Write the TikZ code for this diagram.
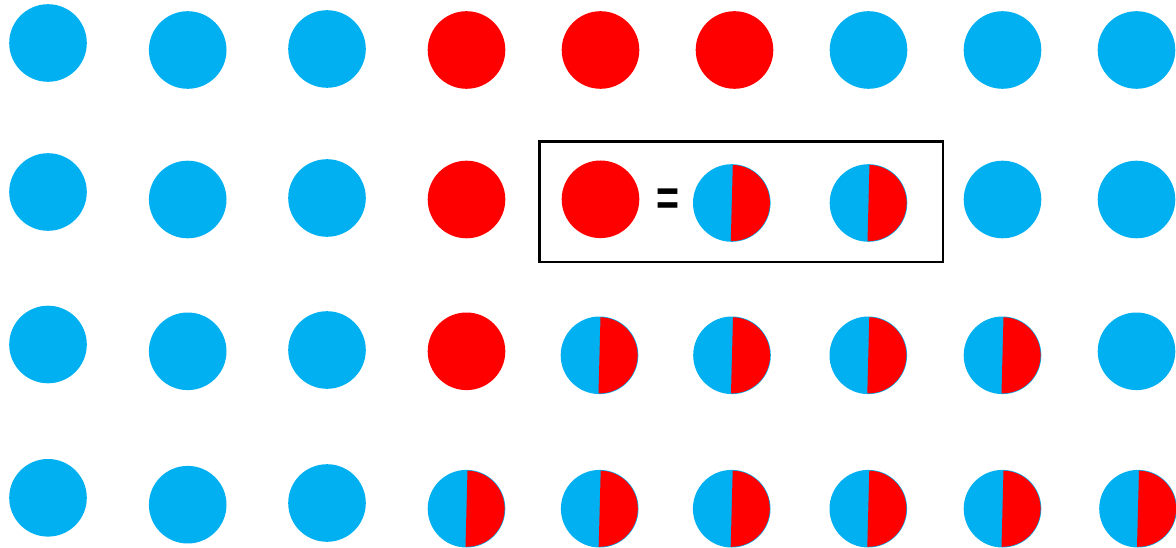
\documentclass[tikz,border=0pt]{standalone}
\usepackage{fontspec}
\setmainfont{Liberation Sans}
\definecolor{dotblue}{HTML}{00B0F0}
\definecolor{dotred}{HTML}{FF0000}
\tikzset{
  dotbase/.style={circle, inner sep=0pt, minimum size=77.6pt},
  bluedot/.style={dotbase, fill=dotblue},
  reddot/.style={dotbase, fill=dotred},
  splitdot/.style={dotbase, fill=dotblue,
    path picture={\fill[dotred] ($(path picture bounding box.center)+(88.5:38.1pt)$)
      arc[start angle=88.5, end angle=-91.5, radius=38.1pt] -- cycle;}},
  legendbox/.style={draw=black, line width=2.2pt, inner sep=0pt,
    minimum width=403.5pt, minimum height=120.5pt},
  eqsign/.style={inner sep=0pt, font=\bfseries}
}
\usetikzlibrary{calc}
\begin{document}
\begin{tikzpicture}[x=1pt,y=-1pt]
\useasboundingbox (0,0) rectangle (1176,548);
% legend box
\node[legendbox] (legend) at (741.25,201.75) {};
% row 1
\node[bluedot] (a1) at (48,43) {};
\node[bluedot] (a2) at (187.7,50) {};
\node[bluedot] (a3) at (327,49) {};
\node[reddot]  (a4) at (466.5,50) {};
\node[reddot]  (a5) at (600.5,50) {};
\node[reddot]  (a6) at (734.5,50) {};
\node[bluedot] (a7) at (868.5,50) {};
\node[bluedot] (a8) at (1002.5,50) {};
\node[bluedot] (a9) at (1136.5,50) {};
% row 2
\node[bluedot] (b1) at (48,192) {};
\node[bluedot] (b2) at (187.7,199.5) {};
\node[bluedot] (b3) at (327,198) {};
\node[reddot]  (b4) at (466.5,199.5) {};
\node[reddot]  (lred) at (600.5,199.3) {};
\node[eqsign]  (eq) at (668.3,202) {\scalebox{1}[1.3]{\resizebox{23pt}{!}{=}}};
\node[splitdot] (lsplitA) at (731.8,203) {};
\node[splitdot] (lsplitB) at (868.5,203) {};
\node[bluedot] (b8) at (1002.5,199.5) {};
\node[bluedot] (b9) at (1136.5,199.5) {};
% row 3
\node[bluedot] (c1) at (48,344.5) {};
\node[bluedot] (c2) at (187.7,351.3) {};
\node[bluedot] (c3) at (327,350) {};
\node[reddot]  (c4) at (466.5,351.3) {};
\node[splitdot] (c5) at (599.5,355.3) {};
\node[splitdot] (c6) at (732,355.3) {};
\node[splitdot] (c7) at (868.3,355.3) {};
\node[splitdot] (c8) at (1002.5,355.3) {};
\node[bluedot] (c9) at (1136.5,351.3) {};
% row 4
\node[bluedot] (d1) at (48,497.8) {};
\node[bluedot] (d2) at (187.7,504.7) {};
\node[bluedot] (d3) at (327,503) {};
\node[splitdot] (d4) at (466.5,508.7) {};
\node[splitdot] (d5) at (599.7,508.7) {};
\node[splitdot] (d6) at (731.7,508.7) {};
\node[splitdot] (d7) at (868.3,508.7) {};
\node[splitdot] (d8) at (1002.5,508.7) {};
\node[splitdot] (d9) at (1138,508.7) {};
\end{tikzpicture}
\end{document}
